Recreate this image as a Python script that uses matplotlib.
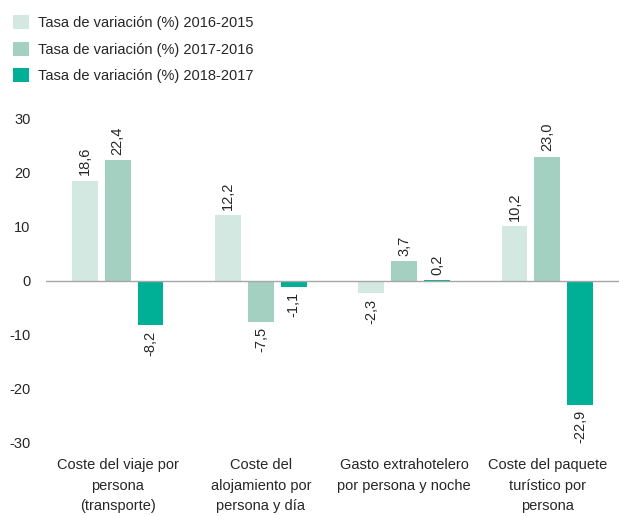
import numpy as np
import matplotlib.pyplot as plt

categories = ["Coste del viaje por\npersona\n(transporte)",
              "Coste del\nalojamiento por\npersona y día",
              "Gasto extrahotelero\npor persona y noche",
              "Coste del paquete\nturístico por\npersona"]
series_names = ["Tasa de variación (%) 2016-2015",
                "Tasa de variación (%) 2017-2016",
                "Tasa de variación (%) 2018-2017"]
v2016 = [18.6, 12.2, -2.3, 10.2]
v2017 = [22.4, -7.5, 3.7, 23.0]
v2018 = [-8.2, -1.1, 0.2, -22.9]
colors = ["#d3e8e1", "#a3d0c0", "#00b096"]

plt.rcParams['font.family'] = ['Liberation Sans', 'DejaVu Sans']

fig = plt.figure(figsize=(6.19, 5.16), dpi=100)
ax = fig.add_axes([46 / 619, 1 - 443 / 516, 573 / 619, 324 / 516])

x = np.arange(len(categories))
w = 0.18
step = 0.23
for i, (vals, c, name) in enumerate(zip([v2016, v2017, v2018], colors, series_names)):
    pos = x + (i - 1) * step
    bars = ax.bar(pos, vals, w, color=c, label=name, zorder=2)
    for p, v in zip(pos, vals):
        txt = ("%.1f" % v).replace(".", ",")
        if v >= 0:
            ax.text(p, v + 1.0, txt, rotation=90, ha="center", va="bottom", fontsize=10.5, color="#262626")
        else:
            ax.text(p, v - 1.0, txt, rotation=90, ha="center", va="top", fontsize=10.5, color="#262626")

ax.axhline(0, color="#a6a6a6", lw=1, zorder=3)
ax.set_xlim(-0.5, 3.5)
ax.set_ylim(-30, 30)
ax.set_yticks([-30, -20, -10, 0, 10, 20, 30])
ax.set_yticklabels(["-30", "-20", "-10", "0", "10", "20", "30"])
ax.set_xticks(x)
ax.set_xticklabels(categories, fontsize=10.5, color="#262626", linespacing=1.6)
ax.tick_params(axis="x", length=0, pad=11)
ax.tick_params(axis="y", length=0, labelsize=10.5, labelcolor="#262626", pad=11)
for s in ax.spines.values():
    s.set_visible(False)

ax.legend(loc="upper left", bbox_to_anchor=(-46 / 573, 1 + 117 / 324), frameon=False,
          fontsize=10.5, handlelength=1.1, handleheight=1.1, labelspacing=0.8, handletextpad=0.6,
          labelcolor="#262626")

fig.savefig("out.png", dpi=100)
